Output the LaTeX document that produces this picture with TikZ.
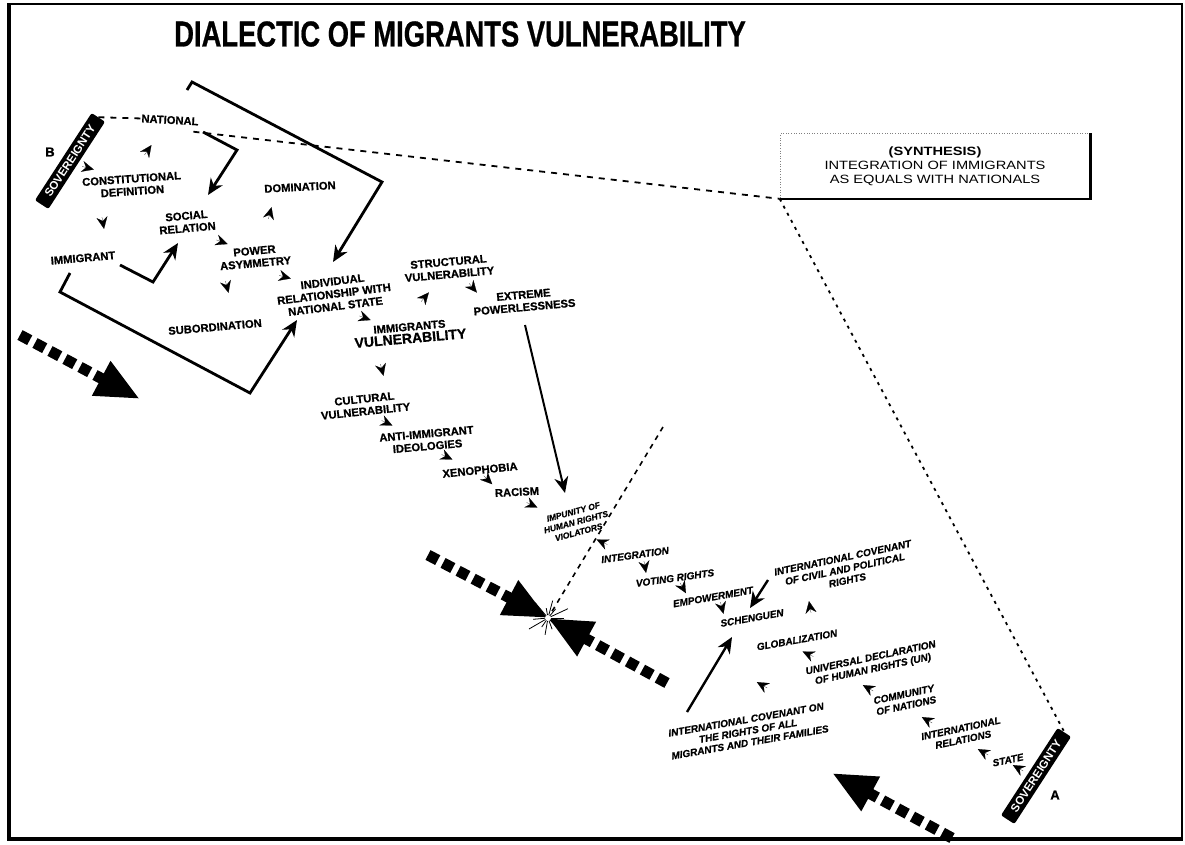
\documentclass[tikz,border=0pt]{standalone}
\usepackage{fontspec}
\setmainfont{Liberation Sans}
\newfontfamily\heavy{Liberation Sans}[BoldFeatures={FakeBold=0.8}, BoldItalicFeatures={FakeBold=0.8}]
\usetikzlibrary{arrows.meta}
\tikzset{
  lbl/.style={font=\heavy\bfseries\fontsize{11.2}{12.5}\selectfont, align=center, inner sep=1pt},
  lbli/.style={font=\heavy\bfseries\itshape\fontsize{10}{11.5}\selectfont, align=center, inner sep=1pt},
  sov/.style={fill=black, text=white, rounded corners=2pt, font=\bfseries\fontsize{11.5}{12}\selectfont,
    minimum width=104pt, minimum height=16pt, inner sep=1pt, rotate=57},
  mk/.style={-{Stealth[length=12pt,width=11pt,inset=4pt]}, line width=0.2pt},
  arr/.style={line width=2.8pt, -{Stealth[length=16pt,width=14pt,inset=5pt]}},
  bigdash/.style={line width=11pt, dash pattern=on 11pt off 6pt, -{Triangle[length=44pt,width=36pt]}},
  thindash/.style={line width=1.8pt, dash pattern=on 6pt off 6pt},
  dotline/.style={line width=1.8pt, dash pattern=on 3pt off 5pt},
}
\newcommand\mkr[3]{\draw[mk] (#1,#2) ++({#3+180}:6pt) -- ++(#3:12pt);}
\begin{document}
\begin{tikzpicture}[x=1pt,y=-1pt]
\useasboundingbox (0,0) rectangle (1185,844);
% frame
\draw[line width=1.5pt] (9,4) rectangle (1182,839);
\draw[line width=4pt] (9,3) -- (9,839) -- (1183,839);
% title
\node[font=\heavy\bfseries\fontsize{36}{40}\selectfont, inner sep=0pt] (title) at (460,34)
  {\scalebox{0.76}[1]{DIALECTIC OF MIGRANTS VULNERABILITY}};
% synthesis box
\node[draw=gray, dotted, line width=0.6pt, minimum width=310pt, minimum height=65pt, align=center,
  font=\fontsize{12}{14}\selectfont, inner sep=2pt] (synth) at (935,166)
  {\scalebox{1.22}[1]{\textbf{(SYNTHESIS)}}\\ \scalebox{1.22}[1]{INTEGRATION OF IMMIGRANTS}\\ \scalebox{1.22}[1]{AS EQUALS WITH NATIONALS}};
\draw[line width=2.5pt] (synth.north east) -- (synth.south east) -- (synth.south west);

% top-left cluster
\node[sov] (sovB) at (70,161) {SOVEREIGNTY};
\node[font=\heavy\bfseries\fontsize{13}{14}\selectfont] (B) at (50,152) {B};
\node[lbl, rotate=-3] (national) at (170,120) {NATIONAL};
\node[lbl, rotate=4] (const) at (132,185) {CONSTITUTIONAL\\DEFINITION};
\node[lbl, rotate=5] (immigrant) at (83,258) {IMMIGRANT};
\node[lbl, rotate=5] (social) at (187,222) {SOCIAL\\RELATION};
\node[lbl, rotate=5] (power) at (255,257) {POWER\\ASYMMETRY};
\node[lbl, rotate=3] (domination) at (300,187) {DOMINATION};
\node[lbl, rotate=5] (subord) at (215,327) {SUBORDINATION};
\node[lbl, rotate=7] (indiv) at (334,294) {INDIVIDUAL\\RELATIONSHIP WITH\\NATIONAL STATE};
\node[lbl, rotate=5] (immvul) at (410,333) {IMMIGRANTS\\{\fontsize{14}{15}\selectfont VULNERABILITY}};
\node[lbl, rotate=5] (struct) at (449,268) {STRUCTURAL\\VULNERABILITY};
\node[lbl, rotate=5] (extreme) at (524,301) {EXTREME\\POWERLESSNESS};
\node[lbl, rotate=6] (cultural) at (365,405) {CULTURAL\\VULNERABILITY};
\node[lbl, rotate=5] (anti) at (427,440) {ANTI-IMMIGRANT\\IDEOLOGIES};
\node[lbl, rotate=6] (xeno) at (480,470) {XENOPHOBIA};
\node[lbl, rotate=3] (racism) at (517,492) {RACISM};
\node[lbli, font=\heavy\bfseries\itshape\fontsize{8.5}{10.5}\selectfont, rotate=15] (impunity) at (576,522) {IMPUNITY OF\\HUMAN RIGHTS\\VIOLATORS};

% lower-right cluster
\node[lbli, rotate=8] (integration) at (635,555) {INTEGRATION};
\node[lbli, rotate=8] (voting) at (675,578) {VOTING RIGHTS};
\node[lbli, rotate=10] (empower) at (713,597) {EMPOWERMENT};
\node[lbli, rotate=10] (schenguen) at (752,618) {SCHENGUEN};
\node[lbli, rotate=12] (iccpr) at (845,569) {INTERNATIONAL COVENANT\\OF CIVIL AND POLITICAL\\RIGHTS};
\node[lbli, rotate=10] (global) at (797,640) {GLOBALIZATION};
\node[lbli, rotate=12] (udhr) at (872,664) {UNIVERSAL DECLARATION\\OF HUMAN RIGHTS (UN)};
\node[lbli, rotate=10] (icrmw) at (748,731) {INTERNATIONAL COVENANT ON\\THE RIGHTS OF ALL\\MIGRANTS AND THEIR FAMILIES};
\node[lbli, rotate=12] (community) at (905,700) {COMMUNITY\\OF NATIONS};
\node[lbli, rotate=12] (intrel) at (962,734) {INTERNATIONAL\\RELATIONS};
\node[lbli, rotate=12] (state) at (1008,760) {STATE};
\node[sov] (sovA) at (1036,776) {SOVEREIGNTY};
\node[font=\heavy\bfseries\fontsize{13}{14}\selectfont] (A) at (1055,795) {A};

% dashed / dotted links
\draw[thindash] (sovB.east) -- (national.west);
\draw[thindash] ([shift={(-6,5)}]national.south east) -- (synth.south west);
\draw[dotline] (synth.south west) -- (sovA.east);
\coordinate (clash) at (548,618);
\coordinate (dtop) at (663,427);
\draw[line width=1.6pt, dash pattern=on 5pt off 5pt] (dtop) -- (clash);

% solid arrows
\coordinate (n1) at (203,132); \coordinate (n2) at (237,150); \coordinate (n3) at (208,195);
\draw[arr] (n1) -- (n2) -- (n3);
\coordinate (i1) at (120,265); \coordinate (i2) at (153,282); \coordinate (i3) at (178,243);
\draw[arr] (i1) -- (i2) -- (i3);
\coordinate (t0) at (187,90); \coordinate (t1) at (192,82); \coordinate (t2) at (382,182); \coordinate (t3) at (333,262);
\draw[arr, line join=miter] (t0) -- (t1) -- (t2) -- (t3);
\coordinate (b0) at (70,273); \coordinate (b1) at (60,292); \coordinate (b2) at (250,393); \coordinate (b3) at (297,320);
\draw[arr, line join=miter] (b0) -- (b1) -- (b2) -- (b3);
\coordinate (e1) at (525,325); \coordinate (e2) at (565,493);
\draw[arr, line width=2pt] (e1) -- (e2);
\coordinate (c1) at (768,580); \coordinate (c2) at (750,608);
\draw[arr, line width=2.4pt] (c1) -- (c2);
\coordinate (m1) at (687,712); \coordinate (m2) at (732,637);
\draw[arr, line width=2.4pt] (m1) -- (m2);

% big dashed arrows
\coordinate (d1s) at (20,335); \coordinate (d1e) at (140,399);
\draw[bigdash] (d1s) -- (d1e);
\coordinate (d2s) at (428,555);
\draw[bigdash] (d2s) -- (clash);
\coordinate (d3s) at (667,683);
\draw[bigdash] (d3s) -- (clash);
\coordinate (d4s) at (952,838); \coordinate (d4e) at (832,773);
\draw[bigdash] (d4s) -- (d4e);

% starburst
\foreach \a/\r in {0/16,25/22,50/12,75/18,100/10,130/20,160/13,185/15,210/22,235/11,260/17,290/12,315/20,340/14}
  \draw[line width=0.8pt] (clash) -- ++(\a:\r pt);
\fill[white] (clash) circle (3pt);

% small arrowhead markers
\mkr{88}{168}{-15}
\mkr{148}{150}{55}
\mkr{103}{223}{-80}
\mkr{222}{242}{-20}
\mkr{270}{213}{75}
\mkr{227}{287}{-75}
\mkr{285}{277}{-15}
\mkr{365}{318}{-20}
\mkr{425}{297}{50}
\mkr{473}{288}{-50}
\mkr{382}{370}{-75}
\mkr{387}{423}{-25}
\mkr{447}{457}{-25}
\mkr{488}{480}{-45}
\mkr{532}{505}{-25}
\mkr{602}{542}{155}
\mkr{645}{567}{-80}
\mkr{683}{588}{-60}
\mkr{722}{608}{-75}
\mkr{810}{607}{100}
\mkr{808}{654}{155}
\mkr{762}{685}{150}
\mkr{868}{688}{150}
\mkr{927}{720}{150}
\mkr{983}{752}{150}
\mkr{1018}{768}{150}
\end{tikzpicture}
\end{document}
